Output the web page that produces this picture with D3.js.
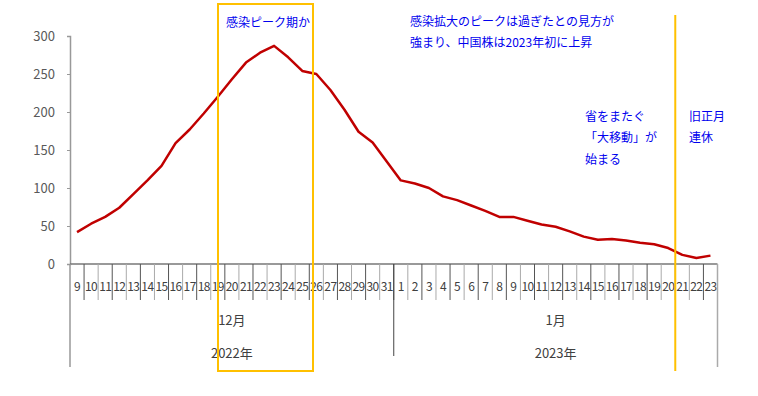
<!DOCTYPE html>
<html>
<head>
<meta charset="utf-8">
<script src="https://cdn.jsdelivr.net/npm/d3@7"></script>
<style>
  body { margin: 0; background: #fff; }
  svg { display: block; }
</style>
</head>
<body>
<script>
// days on the axis (Dec 9 .. Jan 23)
const decDays = ["9","10","11","12","13","14","15","16","17","18","19","20","21","22","23","24","25","26","27","28","29","30","31"]
const janDays = ["1","2","3","4","5","6","7","8","9","10","11","12","13","14","15","16","17","18","19","20","21","22","23"]
const months = ["12月", "1月"]
const years = ["2022年", "2023年"]
const values = [42,53,62,74,92,110,129,159,177,198,220,243,265,278,287,272,254,250,229,203,174,160,135,
                110,106,100,89,84,77,70,62,62,57,52,49,43,36,32,33,31,28,26,21,12,8,11]
const yTicks = [0, 50, 100, 150, 200, 250, 300]

const W = 758, H = 396
const font = "'Noto Sans CJK JP', 'Noto Sans', sans-serif"

// category keys, one per day
const cats = decDays.map(d => "12-" + d).concat(janDays.map(d => "1-" + d))
const dayLabel = cats.map(c => c.split("-")[1])

const svg = d3.select("body").append("svg")
    .attr("width", W)
    .attr("height", H)

const x = d3.scaleBand().domain(cats).range([70, 717.5]).padding(0)
const y = d3.scaleLinear().domain([0, 300]).range([264, 36])

// y axis
const yAxis = svg.append("g")
    .attr("transform", "translate(70,0)")
    .call(d3.axisLeft(y).tickValues(yTicks).tickSize(3).tickPadding(12))
yAxis.select(".domain").attr("stroke", "#999").attr("stroke-width", 1.5)
yAxis.selectAll(".tick line").attr("stroke", "#999")
yAxis.selectAll("text")
    .attr("fill", "#595959")
    .style("font-family", font)
    .style("font-size", "13px")

// x axis baseline
svg.append("line")
    .attr("x1", 70).attr("x2", x.range()[1])
    .attr("y1", y(0)).attr("y2", y(0))
    .attr("stroke", "#777").attr("stroke-width", 1.5)

// day separators
svg.selectAll(".sep")
    .data(cats.slice(1))
    .enter()
    .append("line")
    .attr("class", "sep")
    .attr("x1", d => x(d)).attr("x2", d => x(d))
    .attr("y1", y(0)).attr("y2", 300)
    .attr("stroke", (d, i) => i % 2 == 0 ? "#555" : "#aaa")
    .attr("stroke-width", 1)

// day labels
svg.selectAll(".day")
    .data(cats)
    .enter()
    .append("text")
    .attr("class", "day")
    .attr("x", d => x(d) + x.bandwidth() / 2)
    .attr("y", 291)
    .attr("text-anchor", "middle")
    .attr("fill", "#404040")
    .style("font-family", font)
    .style("font-size", "12px")
    .style("letter-spacing", "-0.6px")
    .text((d, i) => dayLabel[i])

// month / year groups
const left = x(cats[0]), mid = x("1-" + janDays[0]), right = x.range()[1]
svg.append("line").attr("x1", left).attr("x2", left).attr("y1", y(0)).attr("y2", 367)
    .attr("stroke", "#999").attr("stroke-width", 1.5)
svg.append("line").attr("x1", mid).attr("x2", mid).attr("y1", y(0)).attr("y2", 356)
    .attr("stroke", "#444").attr("stroke-width", 1)
svg.append("line").attr("x1", right).attr("x2", right).attr("y1", y(0)).attr("y2", 367)
    .attr("stroke", "#aaa").attr("stroke-width", 1.5)

const groupCenters = [(left + mid) / 2, (mid + right) / 2]
svg.selectAll(".month")
    .data(months)
    .enter()
    .append("text")
    .attr("x", (d, i) => groupCenters[i])
    .attr("y", 325)
    .attr("text-anchor", "middle")
    .attr("fill", "#404040")
    .style("font-family", font)
    .style("font-size", "13px")
    .text(d => d)
svg.selectAll(".year")
    .data(years)
    .enter()
    .append("text")
    .attr("x", (d, i) => groupCenters[i])
    .attr("y", 358)
    .attr("text-anchor", "middle")
    .attr("fill", "#404040")
    .style("font-family", font)
    .style("font-size", "13px")
    .text(d => d)

// line
const line = d3.line()
    .x((d, i) => x(cats[i]) + x.bandwidth() / 2)
    .y(d => y(d))
svg.append("path")
    .datum(values)
    .attr("d", line)
    .attr("fill", "none")
    .attr("stroke", "#C00000")
    .attr("stroke-width", 2.5)
    .attr("stroke-linejoin", "round")

// highlight box + holiday line
const orange = "#FFC000"
svg.append("rect")
    .attr("x", 218).attr("y", 4)
    .attr("width", 95).attr("height", 367)
    .attr("fill", "none")
    .attr("stroke", orange)
    .attr("stroke-width", 2)
const hx = x("1-21")
svg.append("line")
    .attr("x1", hx).attr("x2", hx)
    .attr("y1", 15).attr("y2", 371)
    .attr("stroke", orange)
    .attr("stroke-width", 2)

// annotations
const notes = [
    { x: 226, y: 27, t: "感染ピーク期か" },
    { x: 410, y: 26, t: "感染拡大のピークは過ぎたとの見方が" },
    { x: 410, y: 47, t: "強まり、中国株は2023年初に上昇" },
    { x: 585, y: 121, t: "省をまたぐ" },
    { x: 585, y: 142, t: "「大移動」が" },
    { x: 585, y: 164, t: "始まる" },
    { x: 689, y: 121, t: "旧正月" },
    { x: 689, y: 142, t: "連休" }
]
svg.selectAll(".note")
    .data(notes)
    .enter()
    .append("text")
    .attr("x", d => d.x)
    .attr("y", d => d.y)
    .attr("fill", "#0000EE")
    .style("font-family", font)
    .style("font-size", "12px")
    .text(d => d.t)
</script>
</body>
</html>
